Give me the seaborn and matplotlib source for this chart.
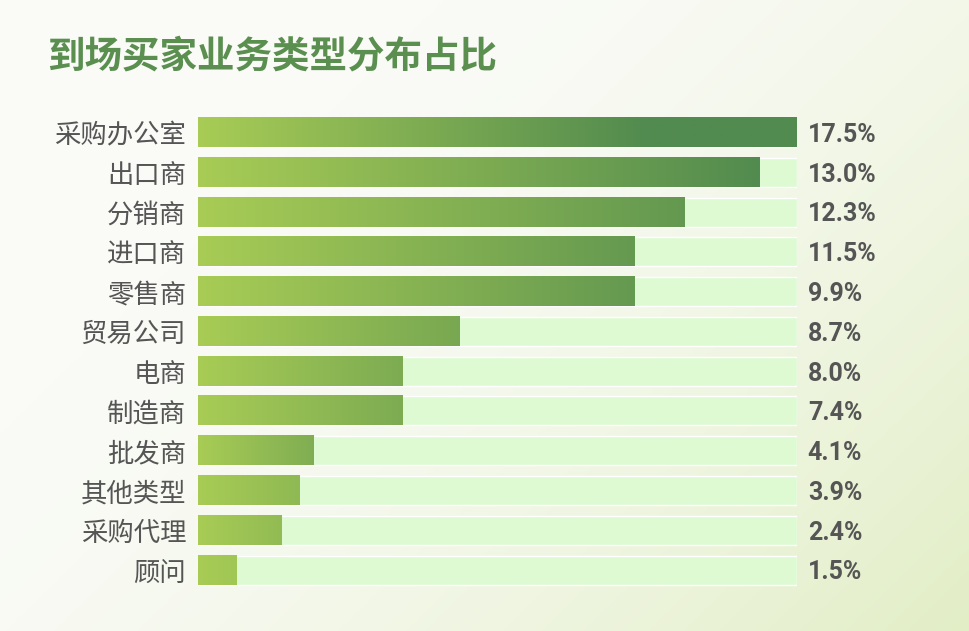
import numpy as np
import pandas as pd
import seaborn as sns
import matplotlib.pyplot as plt
from matplotlib.colors import LinearSegmentedColormap, to_rgb

# data
categories = ['采购办公室', '出口商', '分销商', '进口商', '零售商', '贸易公司',
              '电商', '制造商', '批发商', '其他类型', '采购代理', '顾问']
pct_labels = [17.5, 13.0, 12.3, 11.5, 9.9, 8.7, 8.0, 7.4, 4.1, 3.9, 2.4, 1.5]
# drawn bar length as share of the full track (the picture does not scale bars by value)
bar_share = [1.0, 0.937, 0.813, 0.728, 0.728, 0.436, 0.342, 0.342, 0.192, 0.169, 0.140, 0.065]
# where each bar's gradient reaches the dark green (style)
fade_span = [0.75, 0.94, 1.02, 0.93, 0.93, 0.78, 0.68, 0.68, 0.41, 0.58, 0.54, 0.72]

light = np.array(to_rgb('#a8cc55'))
dark = np.array(to_rgb('#528b4f'))
track_color = '#ddfad3'
text_grey = '#555555'

sns.set_style('white')
plt.rcParams['font.family'] = ['Noto Sans CJK SC', 'DejaVu Sans']

fig = plt.figure(figsize=(9.69, 6.31), dpi=100)

# soft diagonal background
bg = fig.add_axes([0, 0, 1, 1], zorder=-5)
gx, gy = np.meshgrid(np.linspace(0, 1, 300), np.linspace(0, 1, 200))
t = np.clip((gx * 0.6 + gy * 0.4 - 0.25) / 0.75, 0, 1) ** 1.6
bg_cmap = LinearSegmentedColormap.from_list('bg', ['#fafbf7', '#e2eec6'])
bg.imshow(t, cmap=bg_cmap, aspect='auto', extent=[0, 1, 0, 1], origin='upper', vmin=0, vmax=1)
bg.axis('off')

ax = fig.add_axes([198 / 969, 41.0 / 631, 599 / 969, 477.4 / 631])
ax.patch.set_alpha(0)

df = pd.DataFrame({'category': categories, 'share': bar_share, 'track': 1.0})
sns.barplot(data=df, x='track', y='category', order=categories, orient='h',
            color=track_color, width=0.73, saturation=1, ax=ax)
n_track = len(ax.patches)
sns.barplot(data=df, x='share', y='category', order=categories, orient='h',
            color=light, width=0.73, saturation=1, ax=ax)

bar_patches = ax.patches[n_track:]
for patch, span in zip(bar_patches, fade_span):
    x0, y0 = patch.get_x(), patch.get_y()
    w, h = patch.get_width(), patch.get_height()
    xs = np.linspace(0, w, 400)
    f = np.clip(xs / span, 0, 1)
    grad = light[None, :] + (dark - light)[None, :] * f[:, None]
    ax.imshow(grad[None, :, :], extent=[x0, x0 + w, y0 + h, y0], aspect='auto',
              interpolation='bilinear', zorder=3)
    patch.set_visible(False)

ax.set_xlim(0, 1)
ax.set_ylim(len(categories) - 0.5, -0.5)
ax.set_xlabel('')
ax.set_ylabel('')
ax.set_xticks([])
ax.tick_params(axis='y', length=0, pad=8.5, labelsize=19, labelcolor=text_grey)
sns.despine(ax=ax, left=True, bottom=True)

for i, v in enumerate(pct_labels):
    ax.text(1.018, i + 0.06, f'{v:.1f}%', transform=ax.get_yaxis_transform(),
            ha='left', va='center', fontsize=18, fontweight='bold',
            color=text_grey, family=['Roboto', 'DejaVu Sans'])

fig.text(47 / 969, 1 - 56 / 631, '到场买家业务类型分布占比', ha='left', va='center',
         fontsize=27, fontweight='bold', color='#5a8f50')

fig.savefig('out.png', dpi=100)
